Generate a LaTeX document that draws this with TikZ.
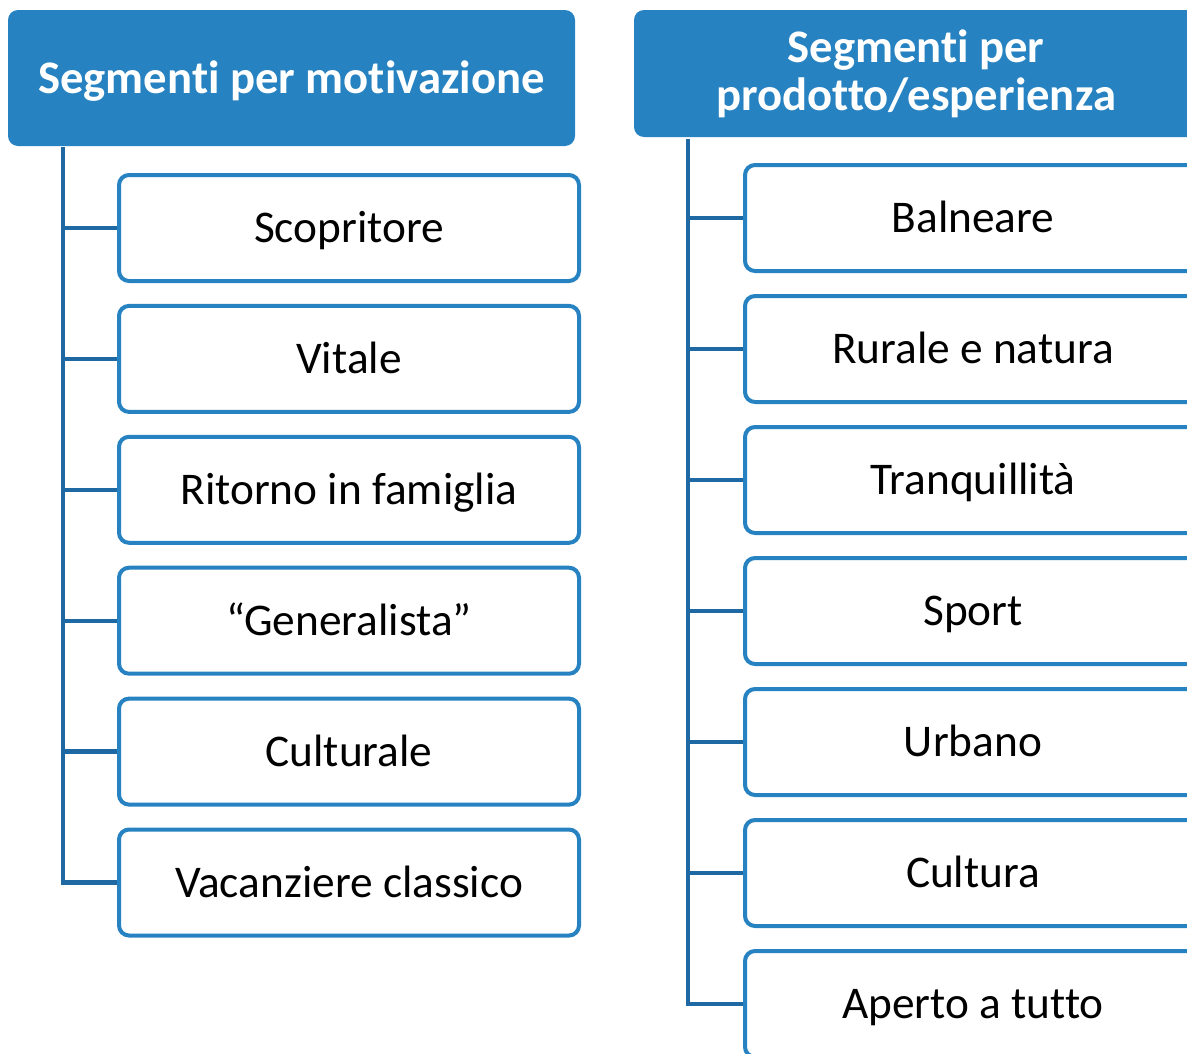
\documentclass[tikz,border=0pt]{standalone}
\usepackage{fontspec}
\setmainfont{Carlito}[Ligatures=NoCommon]
\definecolor{headblue}{RGB}{39,130,193}
\definecolor{linkblue}{RGB}{30,104,163}

\begin{document}
\begin{tikzpicture}[x=0.75pt,y=-0.75pt,
  head/.style={fill=headblue,rounded corners=7.5pt,text=white,align=center,inner sep=0pt,
    font=\fontsize{35}{36}\selectfont\bfseries},
  segbox/.style={draw=headblue,line width=3pt,fill=white,rounded corners=7.5pt,inner sep=0pt,
    minimum height=79.5pt,text height=21.9pt,text depth=0pt,font=\fontsize{34}{36}\selectfont},
  link/.style={draw=linkblue,line width=3.2pt}]
\useasboundingbox (0,0) rectangle (1187,1053);
\clip (0,0) rectangle (1187,1053);
% headers
\node[head,minimum width=425.25pt,minimum height=102pt,text height=22.5pt,text depth=0pt] (motiv) at (291.5,78) {Segmenti per motivazione};
\node[head,minimum width=423pt,minimum height=95.25pt] (prod) at (916,73.5) {Segmenti per\\prodotto/esperienza};
% left column
\foreach \lbl [count=\i] in {Scopritore,Vitale,Ritorno in famiglia,“Generalista”,Culturale,Vacanziere classico}
  \node[segbox,minimum width=345pt] (m\i) at (349,{228+130.9*(\i-1)}) {\lbl};
\coordinate (mtop) at (63,147);
\draw[link] (mtop) |- (m6.west);
\foreach \i in {1,...,5}
  \draw[link] (mtop |- m\i.west) -- (m\i.west);
% right column
\foreach \lbl [count=\i] in {Balneare,Rurale e natura,Tranquillità,Sport,Urbano,Cultura,Aperto a tutto}
  \node[segbox,minimum width=342pt] (p\i) at (973,{218+131*(\i-1)}) {\lbl};
\coordinate (ptop) at (688,139);
\draw[link] (ptop) |- (p7.west);
\foreach \i in {1,...,6}
  \draw[link] (ptop |- p\i.west) -- (p\i.west);
\end{tikzpicture}
\end{document}
